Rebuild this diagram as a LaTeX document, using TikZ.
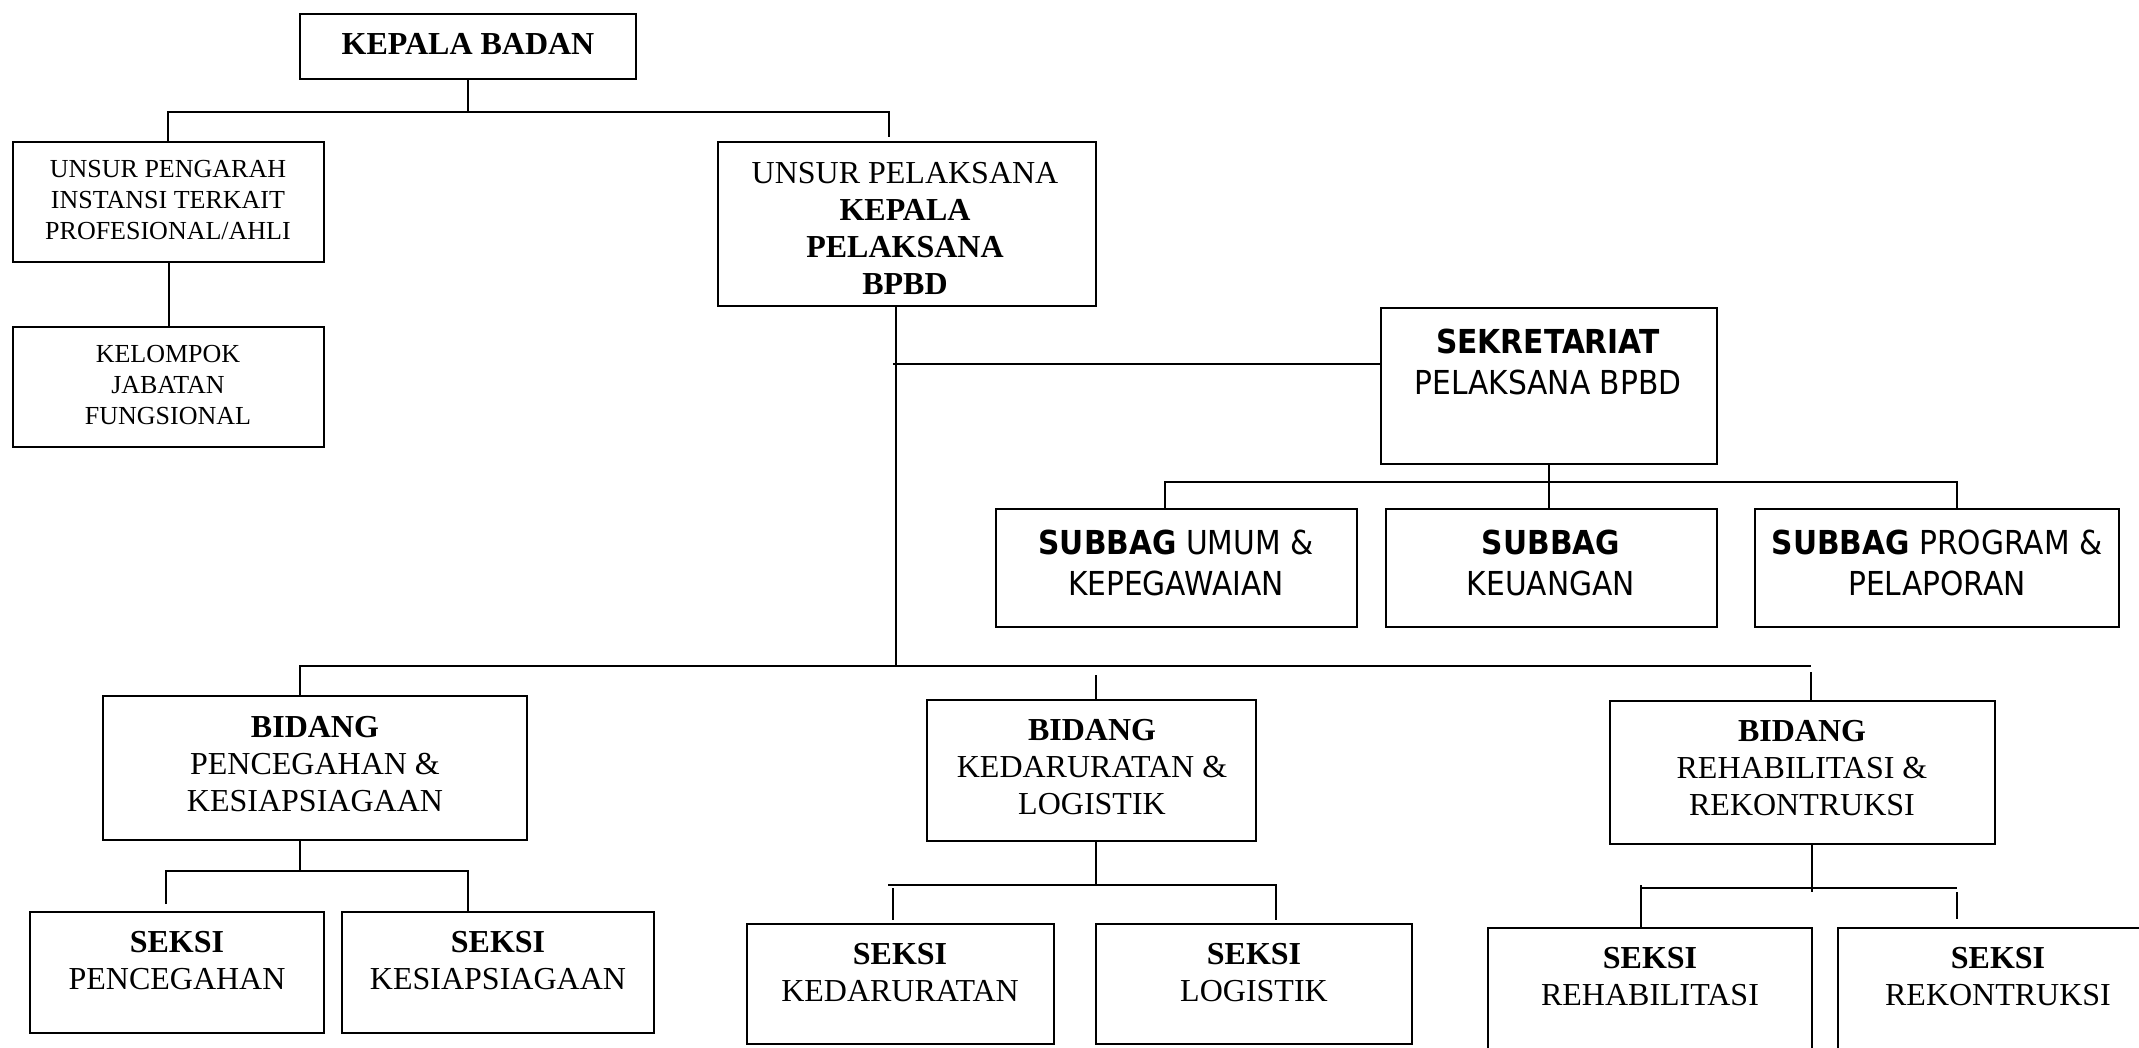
\documentclass[tikz,border=0pt]{standalone}
\usepackage{fontspec}
\setmainfont{Liberation Serif}
\newfontfamily\tahoma[FakeStretch=0.9]{DejaVu Sans}
\tikzset{
  orgbox/.style={draw, line width=2.5pt, inner sep=0pt, rectangle},
  conn/.style={line width=2pt},
  lbl/.style={inner sep=0pt, align=center, font=\fontsize{32}{37}\selectfont},
  lblsmall/.style={inner sep=0pt, align=center, font=\fontsize{26}{31}\selectfont},
  lblsans/.style={inner sep=0pt, align=center, font=\tahoma\fontsize{33}{41}\selectfont},
}
\newcommand\mkbox[5]{\node[orgbox, minimum width={(#4-#2)*1pt}, minimum height={(#5-#3)*1pt}] (#1) at ({(#2+#4)/2},{(#3+#5)/2}) {};}
\begin{document}
\begin{tikzpicture}[x=1pt,y=-1pt]
\useasboundingbox (0,0) rectangle (2139,1047);
\clip (0,0) rectangle (2139,1047);
\fill[white] (0,0) rectangle (2139,1047);

% boxes
\mkbox{kb}{300}{14}{636}{79}
\mkbox{up}{13}{142}{324}{262}
\mkbox{kjf}{13}{327}{324}{447}
\mkbox{upl}{718}{142}{1096}{306}
\mkbox{sek}{1381}{308}{1717}{464}
\mkbox{sb1}{996}{509}{1357}{627}
\mkbox{sb2}{1386}{509}{1717}{627}
\mkbox{sb3}{1755}{509}{2119}{627}
\mkbox{bd1}{103}{696}{527}{840}
\mkbox{bd2}{927}{700}{1256}{841}
\mkbox{bd3}{1610}{701}{1995}{844}
\mkbox{sk1}{30}{912}{324}{1033}
\mkbox{sk2}{342}{912}{654}{1033}
\mkbox{sk3}{747}{924}{1054}{1044}
\mkbox{sk4}{1096}{924}{1412}{1044}
\mkbox{sk5}{1488}{928}{1812}{1052}
\mkbox{sk6}{1838}{928}{2160}{1052}

% texts
\node[lbl] (tkb) at (468,44) {\bfseries KEPALA BADAN};
\node[lblsmall] (tup) at (168,200) {UNSUR PENGARAH\\INSTANSI TERKAIT\\PROFESIONAL/AHLI};
\node[lblsmall] (tkjf) at (168,385) {KELOMPOK\\JABATAN\\FUNGSIONAL};
\node[lbl] (tupl) at (905,228) {UNSUR PELAKSANA\\\textbf{KEPALA}\\\textbf{PELAKSANA}\\\textbf{BPBD}};
\node[lblsans] (tsek) at (1548,362) {\textbf{SEKRETARIAT}\\PELAKSANA BPBD};
\node[lblsans] (tsb1) at (1176,563) {\textbf{SUBBAG} UMUM \&\\KEPEGAWAIAN};
\node[lblsans] (tsb2) at (1551,563) {\textbf{SUBBAG}\\KEUANGAN};
\node[lblsans] (tsb3) at (1937,563) {\textbf{SUBBAG} PROGRAM \&\\PELAPORAN};
\node[lbl] (tbd1) at (315,764) {\textbf{BIDANG}\\PENCEGAHAN \&\\KESIAPSIAGAAN};
\node[lbl] (tbd2) at (1092,767) {\textbf{BIDANG}\\KEDARURATAN \&\\LOGISTIK};
\node[lbl] (tbd3) at (1802,768) {\textbf{BIDANG}\\REHABILITASI \&\\REKONTRUKSI};
\node[lbl] (tsk1) at (177,961) {\textbf{SEKSI}\\PENCEGAHAN};
\node[lbl] (tsk2) at (498,961) {\textbf{SEKSI}\\KESIAPSIAGAAN};
\node[lbl] (tsk3) at (900,973) {\textbf{SEKSI}\\KEDARURATAN};
\node[lbl] (tsk4) at (1254,973) {\textbf{SEKSI}\\LOGISTIK};
\node[lbl] (tsk5) at (1650,977) {\textbf{SEKSI}\\REHABILITASI};
\node[lbl] (tsk6) at (1998,977) {\textbf{SEKSI}\\REKONTRUKSI};

% connectors: top
\coordinate (b1L) at (168,112);
\coordinate (b1R) at (889,112);
\coordinate (d1) at (889,137);
\draw[conn] (kb.south) -- (kb.south |- b1L);
\draw[conn] (b1L |- up.north) -- (b1L) -- (b1R) -- (d1);
\draw[conn] (up.south) -- (kjf.north);

% main vertical and sekretariat
\coordinate (v1) at (896,666);
\draw[conn] (v1 |- upl.south) -- (v1);
\coordinate (hs) at (893,364);
\draw[conn] (hs) -- (hs -| sek.west);
\draw[conn] (sek.south) -- (sek.south |- sb2.north);
\coordinate (b3L) at (1165,482);
\coordinate (b3R) at (1957,482);
\draw[conn] (b3L |- sb1.north) -- (b3L) -- (b3R) -- (b3R |- sb3.north);

% bidang bus
\coordinate (b4L) at (300,666);
\coordinate (b4R) at (1811,666);
\draw[conn] (b4L |- bd1.north) -- (b4L) -- (b4R);
\coordinate (d2) at (1096,675);
\draw[conn] (d2) -- (d2 |- bd2.north);
\coordinate (d3) at (1811,672);
\draw[conn] (d3) -- (d3 |- bd3.north);

% left seksi group
\coordinate (b5L) at (166,871);
\coordinate (b5R) at (468,871);
\coordinate (d5) at (166,904);
\draw[conn] (b4L |- bd1.south) -- (b4L |- b5L);
\draw[conn] (d5) -- (b5L) -- (b5R) -- (b5R |- sk2.north);

% middle seksi group
\coordinate (b6L) at (888,885);
\coordinate (b6R) at (1276,885);
\coordinate (d6Lt) at (893,888);
\coordinate (d6Lb) at (893,920);
\coordinate (d6Rb) at (1276,920);
\draw[conn] (d2 |- bd2.south) -- (d2 |- b6L);
\draw[conn] (b6L) -- (b6R) -- (d6Rb);
\draw[conn] (d6Lt) -- (d6Lb);

% right seksi group
\coordinate (b7L) at (1641,888);
\coordinate (b7R) at (1957,888);
\coordinate (c7) at (1812,892);
\coordinate (d7Lt) at (1641,885);
\coordinate (d7Rt) at (1957,892);
\coordinate (d7Rb) at (1957,919);
\draw[conn] (c7 |- bd3.south) -- (c7);
\draw[conn] (b7L) -- (b7R);
\draw[conn] (d7Lt) -- (d7Lt |- sk5.north);
\draw[conn] (d7Rt) -- (d7Rb);
\end{tikzpicture}
\end{document}
